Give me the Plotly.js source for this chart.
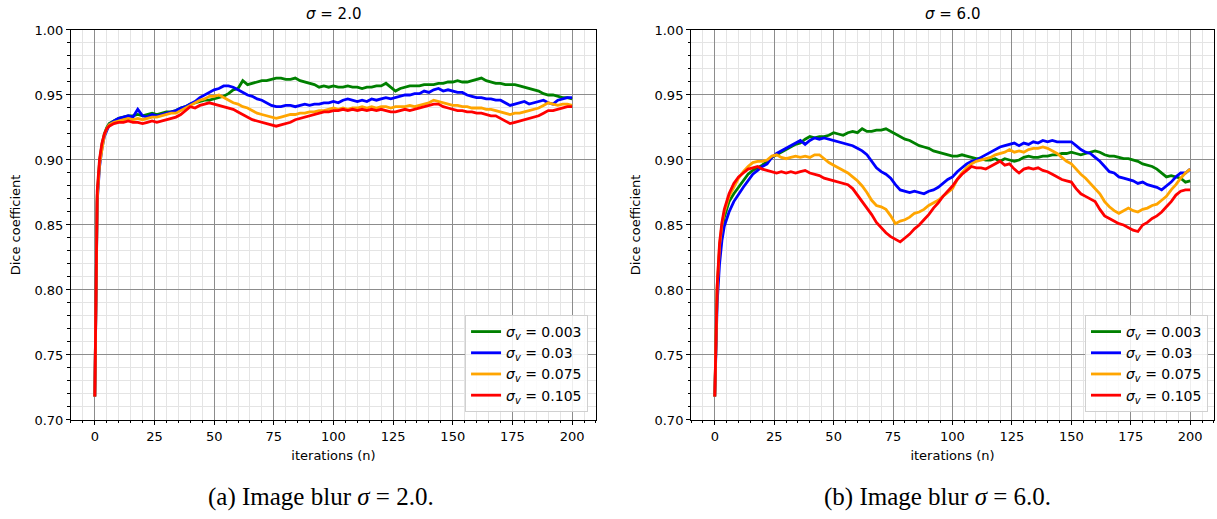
<!DOCTYPE html>
<html>
<head>
<meta charset="utf-8">
<script src="https://cdn.plot.ly/plotly-3.0.1.min.js"></script>
<style>html,body{margin:0;padding:0;background:#fff;}#chart{width:1217px;height:519px;}</style>
</head>
<body>
<div id="chart"></div>
<script>
// Iterations at which values were read
const iterations = [0,1,2,3,4,5,6,8,10,12,14,16,18,20,22,24,26,28,30,32,34,36,38,40,42,44,46,48,50,52,54,56,58,60,62,64,66,68,70,72,74,76,78,80,82,84,86,88,90,92,94,96,98,100,102,104,106,108,110,112,114,116,118,120,122,124,126,128,130,132,134,136,138,140,142,144,146,148,150,152,154,156,158,160,162,164,166,168,170,172,174,176,178,180,182,184,186,188,190,192,194,196,198,200];

const seriesLabels = ["0.003", "0.03", "0.075", "0.105"];
const seriesColors = ["#008000", "#0000ff", "#ffa500", "#ff0000"];
const panelTitles = ["2.0", "6.0"];
const captions = ["(a) Image blur", "(b) Image blur"];
const xTicks = [0,25,50,75,100,125,150,175,200];
const yTicks = [0.70,0.75,0.80,0.85,0.90,0.95,1.00];

// Panel (a): sigma = 2.0
const blur2_s003 = [0.718,0.872,0.899,0.912,0.920,0.925,0.928,0.930,0.932,0.933,0.934,0.934,0.935,0.934,0.935,0.936,0.935,0.936,0.937,0.937,0.938,0.940,0.941,0.943,0.944,0.945,0.946,0.946,0.947,0.948,0.949,0.951,0.954,0.955,0.961,0.958,0.959,0.960,0.961,0.961,0.962,0.963,0.963,0.962,0.962,0.963,0.961,0.960,0.959,0.958,0.956,0.957,0.956,0.957,0.956,0.956,0.957,0.956,0.956,0.955,0.956,0.956,0.957,0.957,0.959,0.956,0.953,0.955,0.956,0.957,0.957,0.957,0.958,0.958,0.958,0.959,0.959,0.960,0.960,0.961,0.960,0.960,0.961,0.962,0.963,0.961,0.960,0.959,0.959,0.958,0.958,0.958,0.957,0.956,0.955,0.954,0.953,0.951,0.950,0.950,0.949,0.948,0.948,0.947];
const blur2_s03 = [0.718,0.868,0.895,0.909,0.918,0.923,0.927,0.930,0.932,0.933,0.934,0.933,0.939,0.934,0.933,0.935,0.934,0.935,0.936,0.937,0.938,0.940,0.941,0.943,0.945,0.948,0.950,0.952,0.954,0.955,0.957,0.957,0.956,0.954,0.952,0.950,0.949,0.947,0.946,0.944,0.942,0.941,0.941,0.942,0.942,0.941,0.942,0.943,0.942,0.943,0.943,0.944,0.944,0.945,0.944,0.946,0.947,0.946,0.945,0.946,0.945,0.947,0.946,0.947,0.948,0.947,0.948,0.949,0.950,0.950,0.951,0.951,0.953,0.952,0.954,0.955,0.953,0.954,0.953,0.952,0.952,0.950,0.949,0.948,0.948,0.947,0.947,0.946,0.946,0.944,0.942,0.943,0.944,0.945,0.943,0.944,0.945,0.946,0.944,0.943,0.946,0.947,0.948,0.948];
const blur2_s075 = [0.718,0.870,0.897,0.910,0.919,0.924,0.927,0.929,0.930,0.931,0.932,0.931,0.932,0.931,0.932,0.933,0.933,0.934,0.935,0.936,0.936,0.938,0.940,0.942,0.944,0.946,0.947,0.949,0.949,0.950,0.948,0.946,0.944,0.943,0.941,0.940,0.938,0.936,0.935,0.934,0.933,0.932,0.933,0.934,0.935,0.935,0.936,0.936,0.937,0.937,0.938,0.938,0.939,0.940,0.939,0.940,0.939,0.940,0.940,0.941,0.940,0.941,0.940,0.941,0.941,0.940,0.941,0.941,0.941,0.942,0.941,0.942,0.943,0.944,0.946,0.945,0.944,0.943,0.942,0.942,0.941,0.941,0.940,0.940,0.940,0.939,0.939,0.938,0.937,0.936,0.935,0.936,0.936,0.937,0.938,0.939,0.940,0.942,0.944,0.943,0.942,0.943,0.943,0.942];
const blur2_s105 = [0.718,0.876,0.901,0.913,0.920,0.924,0.926,0.928,0.929,0.929,0.930,0.929,0.929,0.928,0.929,0.930,0.929,0.930,0.931,0.932,0.933,0.935,0.938,0.941,0.940,0.942,0.943,0.944,0.943,0.942,0.941,0.940,0.939,0.937,0.935,0.933,0.931,0.930,0.929,0.928,0.927,0.926,0.927,0.928,0.929,0.931,0.932,0.933,0.934,0.935,0.936,0.937,0.937,0.938,0.938,0.939,0.938,0.939,0.938,0.939,0.938,0.939,0.938,0.939,0.938,0.937,0.937,0.938,0.939,0.938,0.939,0.940,0.941,0.942,0.943,0.943,0.941,0.940,0.939,0.938,0.938,0.937,0.937,0.936,0.936,0.935,0.934,0.934,0.932,0.930,0.928,0.929,0.930,0.931,0.932,0.933,0.934,0.936,0.938,0.938,0.939,0.940,0.941,0.941];

// Panel (b): sigma = 6.0
const blur6_s003 = [0.718,0.800,0.830,0.846,0.856,0.863,0.868,0.874,0.879,0.884,0.889,0.892,0.894,0.896,0.899,0.902,0.904,0.906,0.908,0.910,0.912,0.913,0.916,0.918,0.917,0.918,0.918,0.919,0.921,0.920,0.919,0.921,0.922,0.921,0.924,0.922,0.922,0.923,0.923,0.924,0.922,0.920,0.918,0.916,0.915,0.913,0.911,0.910,0.909,0.907,0.906,0.905,0.904,0.903,0.903,0.904,0.903,0.902,0.901,0.901,0.900,0.900,0.901,0.899,0.901,0.900,0.899,0.900,0.902,0.903,0.902,0.902,0.903,0.903,0.904,0.904,0.905,0.905,0.906,0.905,0.904,0.905,0.906,0.907,0.906,0.904,0.903,0.903,0.902,0.901,0.901,0.900,0.899,0.897,0.896,0.895,0.893,0.890,0.887,0.888,0.887,0.886,0.883,0.884];
const blur6_s03 = [0.718,0.790,0.820,0.838,0.849,0.855,0.860,0.868,0.874,0.879,0.884,0.889,0.892,0.895,0.897,0.902,0.905,0.907,0.909,0.911,0.913,0.915,0.912,0.915,0.917,0.916,0.917,0.916,0.915,0.914,0.913,0.912,0.911,0.909,0.907,0.904,0.899,0.894,0.891,0.889,0.886,0.881,0.877,0.876,0.875,0.876,0.875,0.874,0.876,0.877,0.879,0.882,0.885,0.887,0.891,0.894,0.897,0.899,0.900,0.902,0.904,0.906,0.908,0.910,0.911,0.912,0.913,0.911,0.913,0.912,0.914,0.913,0.915,0.914,0.915,0.914,0.914,0.914,0.914,0.911,0.908,0.906,0.905,0.902,0.899,0.895,0.891,0.890,0.887,0.886,0.885,0.884,0.882,0.883,0.881,0.880,0.879,0.877,0.880,0.883,0.887,0.890,0.890,0.893];
const blur6_s075 = [0.718,0.802,0.834,0.850,0.860,0.867,0.872,0.879,0.886,0.891,0.895,0.898,0.899,0.899,0.900,0.903,0.904,0.902,0.901,0.902,0.903,0.902,0.903,0.902,0.904,0.904,0.901,0.898,0.896,0.894,0.892,0.890,0.887,0.884,0.880,0.875,0.869,0.865,0.864,0.862,0.857,0.851,0.853,0.854,0.856,0.859,0.860,0.862,0.865,0.867,0.869,0.872,0.875,0.878,0.885,0.890,0.894,0.897,0.899,0.900,0.901,0.902,0.904,0.905,0.906,0.908,0.906,0.907,0.906,0.908,0.909,0.909,0.910,0.909,0.907,0.905,0.902,0.899,0.897,0.893,0.889,0.886,0.882,0.878,0.874,0.868,0.864,0.861,0.859,0.861,0.863,0.861,0.860,0.862,0.863,0.865,0.866,0.869,0.872,0.877,0.881,0.886,0.890,0.893];
const blur6_s105 = [0.718,0.803,0.836,0.852,0.862,0.869,0.874,0.882,0.887,0.890,0.893,0.894,0.895,0.893,0.892,0.891,0.890,0.891,0.890,0.891,0.890,0.891,0.892,0.890,0.889,0.888,0.886,0.885,0.884,0.883,0.882,0.881,0.878,0.873,0.868,0.863,0.858,0.852,0.848,0.844,0.841,0.839,0.837,0.840,0.843,0.847,0.850,0.854,0.858,0.863,0.867,0.872,0.876,0.880,0.885,0.889,0.892,0.895,0.894,0.894,0.893,0.895,0.897,0.899,0.896,0.897,0.893,0.890,0.893,0.894,0.893,0.894,0.892,0.891,0.889,0.887,0.885,0.884,0.883,0.878,0.874,0.872,0.870,0.868,0.862,0.857,0.855,0.853,0.851,0.850,0.848,0.846,0.845,0.850,0.852,0.855,0.857,0.860,0.864,0.868,0.873,0.876,0.877,0.877];

const panelA = [blur2_s003, blur2_s03, blur2_s075, blur2_s105];
const panelB = [blur6_s003, blur6_s03, blur6_s075, blur6_s105];

const FONT = "DejaVu Sans, Arial, sans-serif";
const traces = [];
[panelA, panelB].forEach((panel, p) => {
  panel.forEach((vals, i) => {
    traces.push({
      x: iterations, y: vals, type: "scatter", mode: "lines",
      xaxis: p === 0 ? "x" : "x2", yaxis: p === 0 ? "y" : "y2",
      legend: p === 0 ? "legend" : "legend2",
      name: "<i>σ</i><sub><i>v</i></sub> = " + seriesLabels[i],
      line: {color: seriesColors[i], width: 2.8},
      hoverinfo: "skip"
    });
  });
});

function xAxis(domain, anchor) {
  return {
    domain: domain, anchor: anchor, range: [-10, 210],
    tickmode: "array", tickvals: xTicks, ticktext: xTicks.map(String),
    ticks: "outside", ticklen: 4, tickwidth: 1, tickcolor: "#000",
    showline: true, linecolor: "#000", linewidth: 1, mirror: true,
    showgrid: true, gridcolor: "#8c8c8c", gridwidth: 1, zeroline: false,
    minor: {dtick: 5, tick0: 0, ticks: "outside", ticklen: 2.5, tickcolor: "#000", showgrid: true, gridcolor: "#e4e4e4", gridwidth: 1},
    tickfont: {family: FONT, size: 13, color: "#000"},
    title: {text: "iterations (n)", font: {family: FONT, size: 13, color: "#000"}, standoff: 8},
    automargin: false, fixedrange: true
  };
}
function yAxis(anchor) {
  return {
    domain: [0.1908, 0.9422], anchor: anchor, range: [0.70, 1.00],
    tickmode: "array", tickvals: yTicks, ticktext: yTicks.map(v => v.toFixed(2)),
    ticks: "outside", ticklen: 4, tickwidth: 1, tickcolor: "#000",
    showline: true, linecolor: "#000", linewidth: 1, mirror: true,
    showgrid: true, gridcolor: "#8c8c8c", gridwidth: 1, zeroline: false,
    minor: {dtick: 0.01, tick0: 0.70, ticks: "outside", ticklen: 2.5, tickcolor: "#000", showgrid: true, gridcolor: "#e4e4e4", gridwidth: 1},
    tickfont: {family: FONT, size: 13, color: "#000"},
    title: {text: "Dice coefficient", font: {family: FONT, size: 13, color: "#000"}, standoff: 10},
    automargin: false, fixedrange: true
  };
}
function legendAt(x) {
  return {
    x: x, y: 0.2062, xanchor: "right", yanchor: "bottom", xref: "paper", yref: "paper",
    bgcolor: "rgba(255,255,255,0.85)", bordercolor: "#d0d0d0", borderwidth: 1,
    font: {family: FONT, size: 14, color: "#000"}, itemwidth: 30, tracegroupgap: 0,
    traceorder: "normal"
  };
}

const domA = [0.0583, 0.4897], domB = [0.5678, 0.9975];
const CAPFONT = {family: "Liberation Serif, Times New Roman, serif", size: 25, color: "#000"};
const layout = {
  width: 1217, height: 519,
  margin: {l: 0, r: 0, t: 0, b: 0},
  paper_bgcolor: "#fff", plot_bgcolor: "#fff",
  showlegend: true,
  xaxis: xAxis(domA, "y"), yaxis: yAxis("x"),
  xaxis2: xAxis(domB, "y2"), yaxis2: yAxis("x2"),
  legend: legendAt(0.4832), legend2: legendAt(0.9926),
  annotations: [
    {text: "<i>σ</i> = " + panelTitles[0], x: (domA[0]+domA[1])/2, y: 0.973, xref: "paper", yref: "paper", showarrow: false, xanchor: "center", yanchor: "middle", font: {family: FONT, size: 15, color: "#000"}},
    {text: "<i>σ</i> = " + panelTitles[1], x: (domB[0]+domB[1])/2, y: 0.973, xref: "paper", yref: "paper", showarrow: false, xanchor: "center", yanchor: "middle", font: {family: FONT, size: 15, color: "#000"}},
    {text: captions[0] + " <i>σ</i> = " + panelTitles[0] + ".", x: 0.2638, y: 0.0424, xref: "paper", yref: "paper", showarrow: false, xanchor: "center", yanchor: "middle", font: CAPFONT},
    {text: captions[1] + " <i>σ</i> = " + panelTitles[1] + ".", x: 0.7707, y: 0.0424, xref: "paper", yref: "paper", showarrow: false, xanchor: "center", yanchor: "middle", font: CAPFONT}
  ]
};

Plotly.newPlot("chart", traces, layout, {displayModeBar: false, staticPlot: true});
</script>
</body>
</html>
